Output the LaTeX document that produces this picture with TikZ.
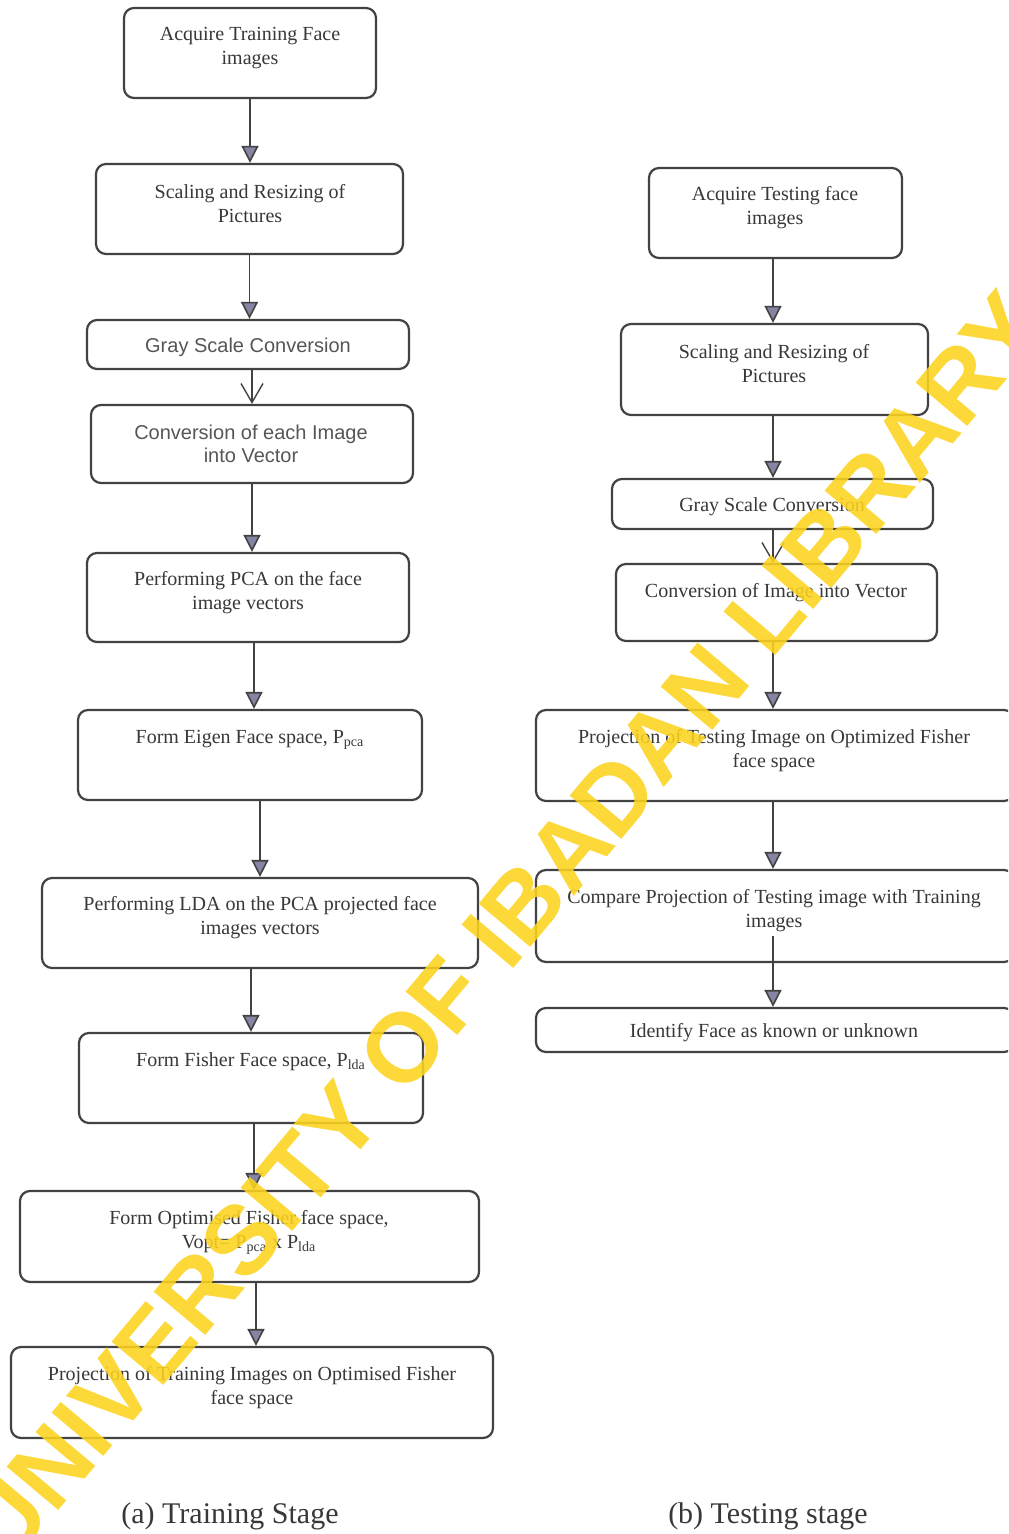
\documentclass[tikz,border=0pt]{standalone}
\usepackage{fontspec}
\setmainfont{Liberation Serif}
\newfontfamily\sansf{Liberation Sans}
\newfontfamily\wmfont{Liberation Sans}
\usetikzlibrary{arrows.meta,calc}
\definecolor{boxc}{HTML}{424242}
\definecolor{txtc}{HTML}{383838}
\definecolor{tipc}{HTML}{8585A3}
\definecolor{wmc}{HTML}{FCD31E}
\tikzset{
  box/.style={draw=boxc, line width=1.1pt, rounded corners=5pt, inner sep=0pt},
  txt/.style={text=txtc, align=center, font=\fontsize{10}{12}\selectfont, inner sep=1pt, yshift=-1.5pt},
  stxt/.style={txt, font=\sansf\fontsize{10}{11.5}\selectfont, text=txtc!85},
  arr/.style={draw=boxc, line width=0.8pt, -{Triangle[width=8.5pt,length=8.5pt,fill=tipc]}},
  varr/.style={draw=boxc, line width=0.8pt, -{Straight Barb[width=11pt,length=9.5pt,line width=0.7pt]}},
  capt/.style={text=txtc, font=\fontsize{15}{17}\selectfont, inner sep=1pt}
}
\begin{document}
\begin{tikzpicture}[x=0.5pt,y=-0.5pt]
\clip (0,0) rectangle (1008,1534);
\fill[white] (0,0) rectangle (1008,1534);

% ---------- (a) Training stage ----------
\node[box, minimum width=126pt, minimum height=45pt] (a1) at (250,53) {};
\node[txt] (a1t) at (250,45) {Acquire Training Face\\images};
\node[box, minimum width=153.5pt, minimum height=45pt] (a2) at (249.5,209) {};
\node[txt] (a2t) at (250,201) {Scaling and Resizing of\\Pictures};
\node[box, minimum width=161pt, minimum height=24.5pt] (a3) at (248,344.5) {};
\node[stxt] (a3t) at (248,344) {Gray Scale Conversion};
\node[box, minimum width=161pt, minimum height=39pt] (a4) at (252,444) {};
\node[stxt] (a4t) at (251,441) {Conversion of each Image\\into Vector};
\node[box, minimum width=161pt, minimum height=44.5pt] (a5) at (248,597.5) {};
\node[txt] (a5t) at (248,590) {Performing PCA on the face\\image vectors};
\node[box, minimum width=172pt, minimum height=45pt] (a6) at (250,755) {};
\node[txt] (a6t) at (250,737) {Form Eigen Face space, P\textsubscript{pca}};
\node[box, minimum width=218pt, minimum height=45pt] (a7) at (260,923) {};
\node[txt] (a7t) at (260,915) {Performing LDA on the PCA projected face\\images vectors};
\node[box, minimum width=172pt, minimum height=45pt] (a8) at (251,1078) {};
\node[txt] (a8t) at (251,1059) {Form Fisher Face space, P\textsubscript{lda}};
\node[box, minimum width=229.5pt, minimum height=45.5pt] (a9) at (249.5,1236.5) {};
\node[txt] (a9t) at (249,1229) {Form Optimised Fisher face space,\\Vopt= P\textsubscript{pca} x P\textsubscript{lda}};
\node[box, minimum width=241pt, minimum height=45.5pt] (a10) at (252,1392.5) {};
\node[txt] (a10t) at (252,1385) {Projection of Training Images on Optimised Fisher\\face space};

\draw[arr] (a1.south) -- (a1.south |- a2.north);
\draw[arr] (a2.south) -- (a2.south |- a3.north);
\draw[varr] (a4.north |- a3.south) -- (a4.north);
\draw[arr] (a4.south) -- (a4.south |- a5.north);
\draw[arr] ([xshift=2pt]a6.north |- a5.south) -- ([xshift=2pt]a6.north);
\draw[arr] (a7.north |- a6.south) -- (a7.north);
\draw[arr] (a8.north |- a7.south) -- (a8.north);
\draw[arr] ([xshift=1.5pt]a8.south) -- ([xshift=1.5pt]a8.south |- a9.north);
\draw[arr] ([xshift=2pt]a10.north |- a9.south) -- ([xshift=2pt]a10.north);

\node[capt] (capa) at (230,1516) {(a) Training Stage};

% ---------- (b) Testing stage ----------
\coordinate (rx) at (773,0);
\node[box, minimum width=126.5pt, minimum height=45pt] (b1) at (775.5,213) {};
\node[txt] (b1t) at (775,205) {Acquire Testing face\\images};
\node[box, minimum width=153.5pt, minimum height=45.5pt] (b2) at (774.5,369.5) {};
\node[txt] (b2t) at (774,361) {Scaling and Resizing of\\Pictures};
\node[box, minimum width=160.5pt, minimum height=25pt] (b3) at (772.5,504) {};
\node[txt] (b3t) at (772,504) {Gray Scale Conversion};
\node[box, minimum width=160.5pt, minimum height=38.5pt] (b4) at (776.5,602.5) {};
\node[txt] (b4t) at (776,590) {Conversion of Image into Vector};
\node[box, minimum width=239pt, minimum height=45.5pt] (b5) at (775,755.5) {};
\node[txt] (b5t) at (774,748) {Projection of Testing Image on Optimized Fisher\\face space};
\node[box, minimum width=239pt, minimum height=46pt] (b6) at (775,916) {};
\node[txt] (b6t) at (774,908) {Compare Projection of Testing image with Training\\images};
\node[box, minimum width=239pt, minimum height=22pt] (b7) at (775,1030) {};
\node[txt] (b7t) at (774,1030) {Identify Face as known or unknown};

\draw[arr] (b1.south -| rx) -- (b2.north -| rx);
\draw[arr] (b2.south -| rx) -- (b3.north -| rx);
\draw[varr] (b3.south -| rx) -- (b4.north -| rx);
\draw[arr] (b4.south -| rx) -- (b5.north -| rx);
\draw[arr] (b5.south -| rx) -- (b6.north -| rx);
\draw[arr] ([yshift=13.5pt]b6.south -| rx) -- (b7.north -| rx);

\node[capt] (capb) at (768,1516) {(b) Testing stage};

% ---------- watermark ----------
\node[rotate=50, text=wmc, text opacity=0.88, inner sep=0pt,
      font=\wmfont\bfseries\fontsize{49}{49}\selectfont] (wm) at (503,928) {UNIVERSITY OF IBADAN LIBRARY};
\end{tikzpicture}
\end{document}
